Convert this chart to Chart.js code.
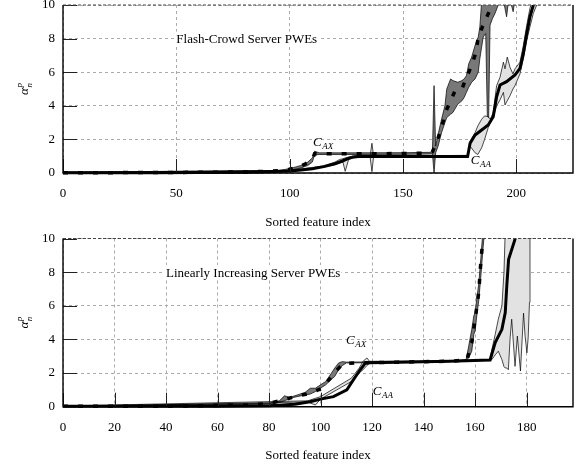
<!DOCTYPE html>
<html><head><meta charset="utf-8">
<script src="https://cdn.jsdelivr.net/npm/chart.js@4/dist/chart.umd.min.js"></script>
<style>
html,body{margin:0;padding:0;background:#fff;}
#wrap{position:relative;width:582px;height:466px;background:#fff;}
canvas{position:absolute;left:0;}
</style></head><body>
<div id="wrap">
<canvas id="c1" width="582" height="233" style="top:0px"></canvas>
<canvas id="c2" width="582" height="233" style="top:233px"></canvas>
</div>
<script>
// ---------- Top panel: Flash-Crowd Server PWEs ----------
const topX_AX = [0,20,40,60,80,90,95,100,104,107,110,111,115,120,130,140,150,160,163,165,167,169,171,173,176,178,180,182,183,185,188,190];
const topY_AX = [0.02,0.02,0.03,0.04,0.06,0.1,0.14,0.22,0.36,0.55,0.8,1.15,1.15,1.15,1.15,1.15,1.16,1.18,1.27,1.9,2.7,3.7,4.3,4.9,5.0,5.7,6.3,7.1,7.9,8.7,9.6,10.5];
const topX_AA = [0,20,40,60,80,90,100,105,110,115,120,123,126,128,130,140,150,160,170,178.5,179.6,181.8,184.7,187.6,189.8,191.3,192.8,195.7,199.4,201.6,203.1,204.6,206,207.5,209];
const topY_AA = [0.02,0.02,0.02,0.03,0.04,0.07,0.12,0.18,0.25,0.38,0.55,0.7,0.87,0.95,0.98,0.98,0.98,0.98,0.98,0.98,1.77,2.26,2.56,2.86,3.35,4.54,5.24,5.44,5.83,6.23,7.12,8.31,9.3,10,10.6];
const topBandX_AX = [0,95,100,105,108,110,111,113,125,150,162,163,163.7,164.4,165.5,167,168.5,169.3,171,172,174.2,176,177,178,179,180.3,181.8,183.2,183.9,184.7,185.4,186.5,187.2,187.8,188.4,189.5,190.6,192,194,195.7,196.8,198.6,200];
const topLow_AX = [0.01,0.1,0.16,0.3,0.45,0.65,1.08,1.1,1.1,1.11,1.13,1.14,0,1.2,1.6,2.4,3.0,3.3,3.5,3.6,4.1,4.3,4.5,4.8,5.1,5.4,5.6,6.0,6.8,7.5,8.1,8.3,3.4,3.3,8.8,9.2,9.5,10,10.5,9.3,10.5,9.6,11];
const topHigh_AX = [0.05,0.15,0.26,0.45,0.65,0.9,1.3,1.2,1.2,1.21,1.23,1.35,5.2,1.6,2.3,3.2,4.0,5.0,5.6,5.5,5.4,5.5,5.6,5.8,6.5,6.9,7.6,8.1,8.7,10.2,11,11,11,11,11,11,11,11,11,11,11,11,11];
const topBandX_AA = [0,100,115,120,122,123.5,124.5,126,128,135.5,136.3,137,150,178.5,179.6,181.8,183,184.7,186,187.6,188.5,189.8,191.3,192.8,194.3,195,196,197.2,198.5,199.4,201.6,203.1,204.6,206,207.5,209];
const topLow_AA = [0.01,0.1,0.35,0.5,0.6,0.65,0.1,0.8,0.9,0.95,0.08,0.95,0.95,0.95,1.6,1.2,1.1,1.5,2.0,2.7,3.0,3.3,4.0,4.35,4.8,4.05,4.3,4.6,5.0,5.2,5.9,6.8,7.9,8.7,9.5,10];
const topHigh_AA = [0.04,0.15,0.42,0.65,0.8,0.85,0.9,0.95,1.0,1.02,1.77,1.02,1.02,1.05,1.9,2.4,2.8,3.2,3.4,3.35,3.2,3.6,5.2,5.7,6.6,6.2,6.9,6.3,5.9,6.2,6.6,7.6,8.8,9.8,10.5,11];

// ---------- Bottom panel: Linearly Increasing Server PWEs ----------
const botX_AX = [0,20,40,50,60,72.6,80,85.5,90,95.9,100.5,103.7,106.3,108.9,114,130,150,156.8,158.7,160,161.4,162.2,163,164];
const botY_AX = [0.02,0.02,0.03,0.05,0.07,0.1,0.2,0.4,0.6,0.8,1.09,1.69,2.18,2.58,2.6,2.65,2.7,2.78,3.81,5.2,6.79,8.57,9.96,11];
const botX_AA = [0,40,60,80,90,95.9,100,105,110.2,112.7,115.3,117.3,119,130,150,165.8,167.8,170.4,171.7,172.3,173,175.5,177];
const botY_AA = [0.02,0.02,0.03,0.06,0.15,0.3,0.45,0.6,1.0,1.59,2.18,2.58,2.62,2.65,2.7,2.78,3.81,4.6,5.6,7.2,8.77,9.96,11];
const botBandX_AX = [0,80,84,86,88,94,96,98,102,104,105.5,107,108.5,110,150,156.5,157.5,158.7,159.5,160,160.8,161.4,162.2,163,164];
const botLow_AX = [0.01,0.15,0.25,0.35,0.5,0.7,0.75,0.9,1.3,1.6,1.8,2.2,2.45,2.6,2.68,2.76,2.9,3.3,4.3,4.5,5.6,6.3,7.7,9.3,11];
const botHigh_AX = [0.04,0.2,0.35,0.65,0.55,0.85,1.1,1.1,1.5,1.95,2.3,2.6,2.68,2.65,2.72,2.8,3.6,4.6,5.4,5.6,6.6,7.3,8.8,10.4,11];
const botBandX_AA = [0,95,98,100,112,115,116.5,118,119,150,165.8,166.5,167.8,169,170.4,171.2,171.7,172.3,172.9,173.6,174.2,175.5,176.4,177.6,178.8,179.4,180.1,180.6,181.1,181.3];
const botLow_AA = [0.01,0.28,0.1,0.45,1.5,2.0,2.2,2.45,2.6,2.68,2.76,2.8,3.08,3.3,2.8,2.38,2.3,2.3,2.2,4.1,5.2,2.4,4.2,2.12,5.56,4.2,3.2,4.1,6.2,10];
const botHigh_AA = [0.04,0.35,0.5,0.6,1.7,2.3,2.7,2.9,2.7,2.72,2.8,3.4,4.3,5.2,6.0,8.0,10.5,11,11,11,11,11,11,11,11,11,11,11,11,11];

// tick settings
const yTicks = [0,2,4,6,8,10];
const topXTicks = [0,50,100,150,200];
const botXTicks = [0,20,40,60,80,100,120,140,160,180];

const SERIF = "'Liberation Serif','Times New Roman',serif";
Chart.defaults.font.family = SERIF;
Chart.defaults.color = '#000';

function pts(xs, ys){ return xs.map((x,i)=>({x:x, y:ys[i]})); }

const deco = {
  id:'deco',
  beforeDatasetsDraw(chart, args, o){
    const ctx = chart.ctx, xs = chart.scales.x, ys = chart.scales.y;
    ctx.save();
    ctx.font = "13px " + SERIF;
    const w = ctx.measureText(o.note).width;
    const tx = xs.getPixelForValue(o.noteX), ty = ys.getPixelForValue(o.noteY);
    ctx.fillStyle = '#fff';
    ctx.fillRect(tx - 1, ty - 7, w + 2, 14);
    ctx.fillStyle = '#000';
    ctx.textBaseline = 'middle';
    ctx.textAlign = 'left';
    ctx.fillText(o.note, tx, ty + 1);
    ctx.restore();
  },
  afterDatasetsDraw(chart, args, o){
    const ctx = chart.ctx, xs = chart.scales.x, ys = chart.scales.y;
    const a = chart.chartArea;
    ctx.save();
    // inward ticks
    ctx.strokeStyle = '#222'; ctx.lineWidth = 1;
    ctx.beginPath();
    xs.ticks.forEach(t=>{ const p = Math.round(xs.getPixelForValue(t.value))+0.5; ctx.moveTo(p, a.bottom); ctx.lineTo(p, a.bottom-14); });
    ys.ticks.forEach(t=>{ const p = Math.round(ys.getPixelForValue(t.value))+0.5; ctx.moveTo(a.left, p); ctx.lineTo(a.left+14, p); });
    ctx.stroke();
    // frame
    ctx.strokeStyle = '#000'; ctx.lineWidth = 1.4;
    ctx.beginPath();
    ctx.moveTo(a.left, a.top); ctx.lineTo(a.left, a.bottom); ctx.lineTo(a.right, a.bottom); ctx.lineTo(a.right, a.top);
    ctx.stroke();
    ctx.setLineDash([3,2]); ctx.strokeStyle = '#444'; ctx.lineWidth = 1.2;
    ctx.beginPath(); ctx.moveTo(a.left, a.top); ctx.lineTo(a.right, a.top); ctx.stroke();
    ctx.setLineDash([]);
    // curve labels
    ctx.fillStyle = '#000'; ctx.textAlign = 'left'; ctx.textBaseline = 'alphabetic';
    o.labels.forEach(l=>{
      const px = xs.getPixelForValue(l.x), py = ys.getPixelForValue(l.y);
      ctx.font = "italic 13px " + SERIF;
      ctx.fillText('C', px, py);
      const cw = ctx.measureText('C').width;
      ctx.font = "italic 9px " + SERIF;
      ctx.fillText(l.sub, px + cw + 0.5, py + 3);
    });
    // y title: alpha_n^p
    const cy = (a.top + a.bottom)/2;
    ctx.translate(24, cy); ctx.rotate(-Math.PI/2);
    ctx.font = "italic 13px " + SERIF;
    const aw = ctx.measureText('α').width;
    const x0 = -(aw + 5)/2;
    ctx.fillText('α', x0, 4);
    ctx.font = "italic 9px " + SERIF;
    ctx.fillText('p', x0 + aw + 0.5, -2.5);
    ctx.fillText('n', x0 + aw + 0.5, 7.5);
    ctx.restore();
  }
};

function zeroPad(s){ s.paddingTop = 0; s.paddingBottom = 0; s.paddingLeft = 0; s.paddingRight = 0; }

function makeChart(id, d){
  const thin = {borderColor:'#000', borderWidth:0.7, pointRadius:0, tension:0};
  const datasets = [
    Object.assign({data: pts(d.bxAA, d.loAA), fill:false, order:5}, thin),
    Object.assign({data: pts(d.bxAA, d.hiAA), fill:'-1', backgroundColor:'#e2e2e2', order:4}, thin),
    Object.assign({data: pts(d.bxAX, d.loAX), fill:false, order:3}, thin),
    Object.assign({data: pts(d.bxAX, d.hiAX), fill:'-1', backgroundColor:'#787878', order:2}, thin),
    {data: pts(d.xAA, d.yAA), borderColor:'#000', borderWidth:3, pointRadius:0, fill:false, order:1, clip:{left:0,right:0,top:0,bottom:3}},
    {data: pts(d.xAX, d.yAX), borderColor:'#000', borderWidth:3.5, borderDash:[5,10], pointRadius:0, fill:false, order:0, clip:{left:0,right:0,top:0,bottom:3}}
  ];
  return new Chart(document.getElementById(id), {
    type:'line',
    data:{datasets},
    plugins:[deco],
    options:{
      responsive:false, animation:false, events:[], devicePixelRatio:1,
      layout:{padding:{top:d.padTop, right:9, left:0, bottom:0}},
      plugins:{
        legend:{display:false}, tooltip:{enabled:false},
        filler:{drawTime:'beforeDatasetsDraw'},
        deco:{note:d.note, noteX:d.noteX, noteY:8, labels:d.labels}
      },
      scales:{
        x:{type:'linear', min:0, max:d.xMax,
           afterFit:s=>{ s.height = d.xH; zeroPad(s); },
           afterBuildTicks:s=>{ s.ticks = d.xTicks.map(v=>({value:v})); },
           ticks:{padding:13, color:'#000', font:{size:13}, maxRotation:0, autoSkip:false},
           grid:{color:'#ababab', lineWidth:1, drawTicks:false},
           border:{display:false, dash:[3,3]},
           title:{display:true, text:'Sorted feature index', color:'#000', font:{size:13}, padding:{top:0, bottom:3}}},
        y:{type:'linear', min:0, max:10,
           afterFit:s=>{ s.width = 63; zeroPad(s); },
           afterBuildTicks:s=>{ s.ticks = yTicks.map(v=>({value:v})); },
           ticks:{padding:8, color:'#000', font:{size:13}},
           grid:{color:'#ababab', lineWidth:1, drawTicks:false},
           border:{display:false, dash:[3,3]}}
      }
    }
  });
}

makeChart('c1', {
  xAX:topX_AX, yAX:topY_AX, xAA:topX_AA, yAA:topY_AA,
  bxAX:topBandX_AX, loAX:topLow_AX, hiAX:topHigh_AX,
  bxAA:topBandX_AA, loAA:topLow_AA, hiAA:topHigh_AA,
  xMax:225, xTicks:topXTicks, padTop:5, xH:60,
  note:'Flash-Crowd Server PWEs', noteX:50,
  labels:[{x:110.3, y:1.6, sub:'AX'}, {x:179.9, y:0.54, sub:'AA'}]
});
makeChart('c2', {
  xAX:botX_AX, yAX:botY_AX, xAA:botX_AA, yAA:botY_AA,
  bxAX:botBandX_AX, loAX:botLow_AX, hiAX:botHigh_AX,
  bxAA:botBandX_AA, loAA:botLow_AA, hiAA:botHigh_AA,
  xMax:198, xTicks:botXTicks, padTop:5.5, xH:59.3,
  note:'Linearly Increasing Server PWEs', noteX:40,
  labels:[{x:109.9, y:3.73, sub:'AX'}, {x:120.3, y:0.7, sub:'AA'}]
});
</script>
</body></html>
